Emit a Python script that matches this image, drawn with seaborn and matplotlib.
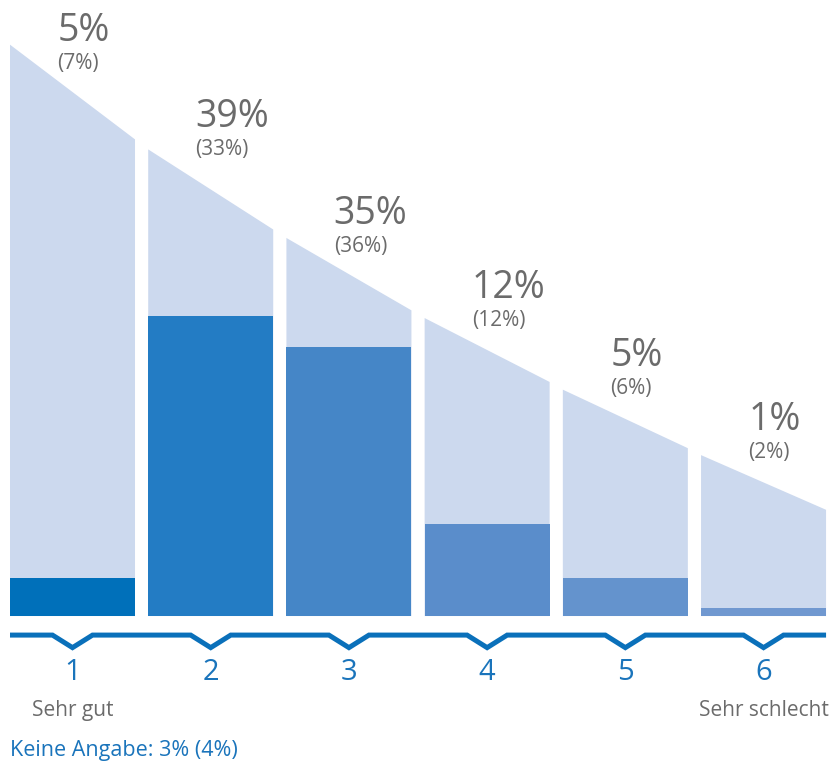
import numpy as np
import pandas
import seaborn as sns
from matplotlib import pyplot as plt

# --- data ----------------------------------------------------------------
grades = ["1", "2", "3", "4", "5", "6"]
share_now = [5, 39, 35, 12, 5, 1]          # dark bars, %
share_before = [7, 33, 36, 12, 6, 2]       # value in brackets, %
bg_left = [74.2, 60.6, 49.1, 38.7, 29.4, 20.9]    # light shape, left top
bg_right = [61.9, 50.2, 39.7, 30.4, 21.8, 13.8]   # light shape, right top
end_labels = {"1": "Sehr gut", "6": "Sehr schlecht"}
no_answer_text = "Keine Angabe: 3% (4%)"

# --- style / layout ------------------------------------------------------
BAR_COLORS = ["#0070ba", "#237cc4", "#4586c7", "#5a8dcb", "#6493cd", "#7098d0"]
BG_COLOR = "#ccd9ee"
GRAY = "#6b6b6b"
BLUE = "#1a74bb"
LINE_BLUE = "#0a70ba"
BAR_WIDTH = 0.9045
LABEL_Y = [76.0, 64.8, 52.2, 42.6, 33.8, 25.5]
SUB_GAP = 4.2

sns.set_theme(style="white")
plt.rcParams["font.family"] = ["Open Sans", "DejaVu Sans"]

fig = plt.figure(figsize=(8.31, 7.67), dpi=100)
ax = fig.add_axes([0, 0, 1, 1])

df = pandas.DataFrame({"grade": grades, "share": share_now})

# light trapezoids behind each bar
for i in range(len(grades)):
    x0, x1 = i - BAR_WIDTH / 2, i + BAR_WIDTH / 2
    ax.fill([x0, x0, x1, x1], [0, bg_left[i], bg_right[i], 0],
            color=BG_COLOR, lw=0, zorder=1)

sns.barplot(data=df, x="grade", y="share", hue="grade", palette=BAR_COLORS,
            width=BAR_WIDTH, saturation=1, legend=False, ax=ax, zorder=2,
            linewidth=0, edgecolor="none")

# percent labels
for i in range(len(grades)):
    ax.text(i - 0.11, LABEL_Y[i], f"{share_now[i]}%", fontsize=27,
            color=GRAY, ha="left", va="center")
    ax.text(i - 0.11, LABEL_Y[i] - SUB_GAP, f"({share_before[i]}%)",
            fontsize=15, color=GRAY, ha="left", va="center")

# bottom line with notches
base, dip, half = -2.47, -4.1, 0.145
xs = [-BAR_WIDTH / 2]
ys = [base]
for i in range(len(grades)):
    xs += [i - half, i, i + half]
    ys += [base, dip, base]
xs.append(len(grades) - 1 + BAR_WIDTH / 2)
ys.append(base)
ax.plot(xs, ys, color=LINE_BLUE, lw=3.6, solid_joinstyle="miter",
        solid_capstyle="butt", zorder=3)

for i, g in enumerate(grades):
    ax.text(i, -7.3, g, fontsize=21, color=BLUE, ha="center", va="center")
    if g in end_labels:
        ax.text(i, -12.2, end_labels[g], fontsize=15, color=GRAY,
                ha="center", va="center")

ax.text(-BAR_WIDTH / 2, -17.4, no_answer_text, fontsize=15.5, color=BLUE,
        ha="left", va="center")

ax.set_xlim(-0.5246, 5.488)
ax.set_ylim(-19.6, 80)
ax.axis("off")

fig.savefig("out.png", dpi=100)
plt.close()
